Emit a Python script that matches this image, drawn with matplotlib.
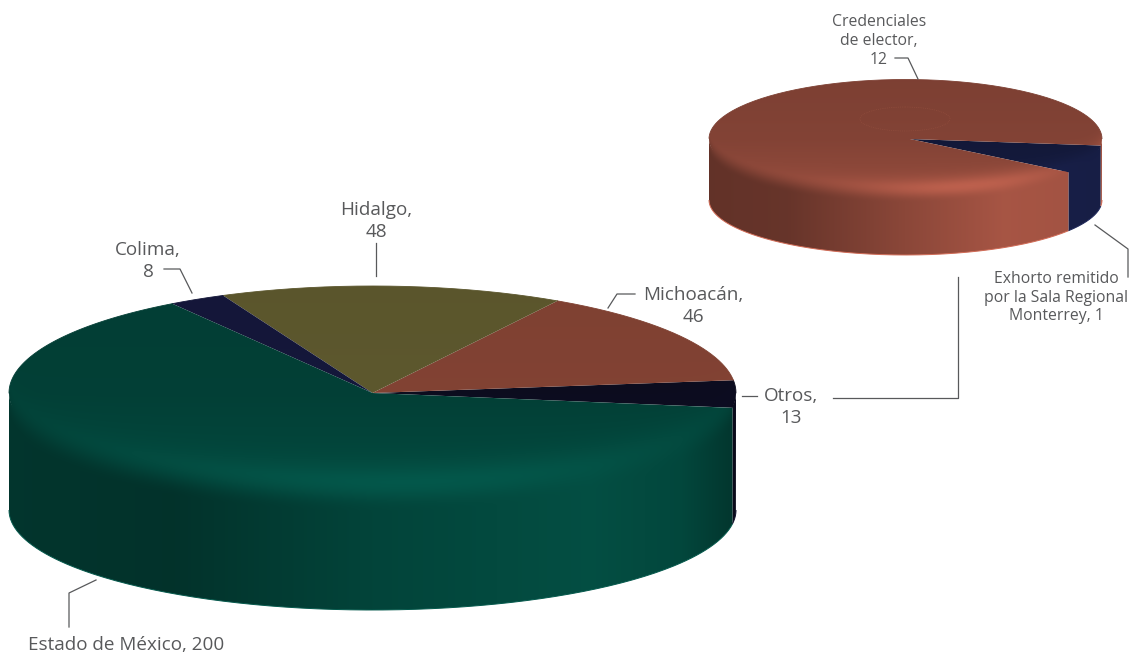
import numpy as np
import matplotlib
matplotlib.use('Agg')
import matplotlib.pyplot as plt
from matplotlib.patches import PathPatch, Ellipse
from matplotlib.path import Path

plt.rcParams['font.family'] = ['Open Sans', 'DejaVu Sans']

# main pie, counter clockwise starting from the front right
main_names = ['Otros', 'Michoacán', 'Hidalgo', 'Colima', 'Estado de México']
main_values = [13, 46, 48, 8, 200]
main_colors = ['#0e0e24', '#974d3c', '#6c6635', '#181b44', '#034a3f']

# detail of "Otros"
detail_names = ['Exhorto remitido por la Sala Regional Monterrey', 'Credenciales de elector']
detail_values = [1, 12]
detail_colors = ['#141a3c', '#8b4739']

TEXT = '#58595b'


def to_rgb(c):
    return np.array(matplotlib.colors.to_rgb(c))


def shade_field(xx, yy, pie):
    u = np.clip((xx - pie['cx']) / pie['rx'], -1, 1)
    v = (yy - pie['cy']) / pie['ry']
    arc = pie['cy'] + pie['arc_ry'] * np.sqrt(1 - u ** 2)
    # top face: darker to the back, brighter close to the front rim
    top = np.interp(v, [-1, 0, 1], pie['top_levels'])
    glow = np.exp(-((u - pie['glow_u']) / pie['glow_w']) ** 2) * np.exp(-((yy - arc) / pie['glow_h']) ** 2)
    top = top + pie['glow'] * glow
    # side: only changes from left to right
    side = np.interp(u, pie['side_u'], pie['side_levels'])
    w = np.clip((yy - arc) / pie['blend'] + 0.5, 0, 1)
    w = w * w * (3 - 2 * w)
    return top * (1 - w) + side * w


def draw_pie(ax, pie, values, colors):
    cx, cy, rx, ry = pie['cx'], pie['cy'], pie['rx'], pie['ry']
    depth, ry2 = pie['depth'], pie['bottom_ry']
    x0, x1 = int(cx - rx) - 2, int(cx + rx) + 3
    y0, y1 = int(cy - ry) - 2, int(cy + depth + ry2) + 3
    xx, yy = np.meshgrid(np.arange(x0, x1) + 0.5, np.arange(y0, y1) + 0.5)
    field = shade_field(xx, yy, pie)

    angles = pie['start'] + np.concatenate([[0], np.cumsum(values)]) / np.sum(values) * 360

    def paint(verts, color, z):
        patch = PathPatch(Path(verts), facecolor='none', edgecolor='none')
        ax.add_patch(patch)
        rgb = np.clip(field[..., None] * to_rgb(color), 0, 1)
        ax.imshow(rgb, extent=(x0, x1, y1, y0), aspect='auto', interpolation='bilinear',
                  clip_path=patch, zorder=z)

    for i, color in enumerate(colors):
        a, b = angles[i], angles[i + 1]
        # side wall of the part of the slice that faces the viewer
        for s, e in [(a, min(b, 0)), (max(a, 180), min(b, 360))]:
            if e > s:
                t = np.radians(np.linspace(s, e, 200))
                # upper edge tucked under the top face so no gap shows
                upper = np.column_stack([cx + rx * np.cos(t), cy - 0.9 * ry * np.sin(t)])
                lower = np.column_stack([cx + rx * np.cos(t), cy + depth - ry2 * np.sin(t)])
                verts = np.vstack([upper, lower[::-1], upper[:1]])
                paint(verts, color, 2)
                ax.plot(lower[:, 0], lower[:, 1], color=np.clip(to_rgb(color) * pie['rim'], 0, 1),
                        lw=0.7, zorder=4, solid_capstyle='butt')

    for i, color in enumerate(colors):
        t = np.radians(np.linspace(angles[i], angles[i + 1], 300))
        rim = np.column_stack([cx + rx * np.cos(t), cy - ry * np.sin(t)])
        apex = [[cx + pie['apex_dx'], cy]]
        verts = np.vstack([apex, rim, apex])
        paint(verts, color, 3)
        # keeps the clipped border at the back from looking jagged
        back = rim[rim[:, 1] < cy]
        if len(back):
            ax.plot(back[:, 0], back[:, 1], color=to_rgb(color) * pie['top_levels'][0], lw=0.6, zorder=4)


main_pie = dict(cx=372.5, cy=393, rx=363.5, ry=107, depth=117, bottom_ry=100, arc_ry=100, apex_dx=0,
                start=-8, top_levels=[0.84, 0.86, 1.0], glow=0.28, glow_u=0.1, glow_w=0.75, glow_h=26,
                blend=38, side_u=[-1, -0.55, 0, 0.6, 0.85, 1],
                side_levels=[0.72, 0.68, 0.92, 1.06, 0.96, 0.72], rim=1.2)
detail_pie = dict(cx=905.5, cy=139, rx=196.5, ry=59.5, depth=61, bottom_ry=55, arc_ry=54, apex_dx=4.5,
                  start=-34, top_levels=[0.90, 0.94, 1.08], glow=0.40, glow_u=0.3, glow_w=0.6, glow_h=13,
                  blend=20, side_u=[-1, -0.6, 0, 0.5, 1],
                  side_levels=[0.71, 0.74, 1.0, 1.2, 1.16], rim=1.5)

fig = plt.figure(figsize=(11.32, 6.54), dpi=100)
ax = fig.add_axes([0, 0, 1, 1])

draw_pie(ax, main_pie, main_values, main_colors)
draw_pie(ax, detail_pie, detail_values, detail_colors)
ax.add_patch(Ellipse((905, 119), 90, 24, fill=False, ec='#96503f', lw=0.5, ls=':', zorder=5))

# leader lines
leaders = [
    ([164, 180, 192], [269, 269, 293]),
    ([376, 376], [243, 276]),
    ([608, 617, 635], [308, 294, 294]),
    ([742, 757], [396, 396]),
    ([833, 958, 958], [398, 398, 277]),
    ([69, 69, 96], [627, 593, 580]),
    ([895, 908, 918], [58, 58, 79]),
    ([1095, 1128, 1128], [225, 249, 277]),
]
for lx, ly in leaders:
    ax.plot(lx, ly, color=TEXT, lw=0.9, zorder=6)

big = 13.6
small = 11.3
ax.text(376, 221, 'Hidalgo,\n48', fontsize=big, color=TEXT, ha='center', va='center', linespacing=1.28)
ax.text(148, 261, 'Colima,\n8', fontsize=big, color=TEXT, ha='center', va='center', linespacing=1.28)
ax.text(693, 306, 'Michoacán,\n46', fontsize=big, color=TEXT, ha='center', va='center', linespacing=1.28)
ax.text(791, 407, 'Otros,\n13', fontsize=big, color=TEXT, ha='center', va='center', linespacing=1.28)
ax.text(126, 645, 'Estado de México, 200', fontsize=big, color=TEXT, ha='center', va='center')
ax.text(879, 41, 'Credenciales\nde elector,\n12', fontsize=small, color=TEXT, ha='center', va='center', linespacing=1.22)
ax.text(1056.5, 297.5, 'Exhorto remitido\npor la Sala Regional\nMonterrey, 1', fontsize=small, color=TEXT,
        ha='center', va='center', linespacing=1.22)

ax.set_xlim(0, 1132)
ax.set_ylim(654, 0)
ax.axis('off')
fig.savefig('out.png', dpi=100, facecolor='white')
